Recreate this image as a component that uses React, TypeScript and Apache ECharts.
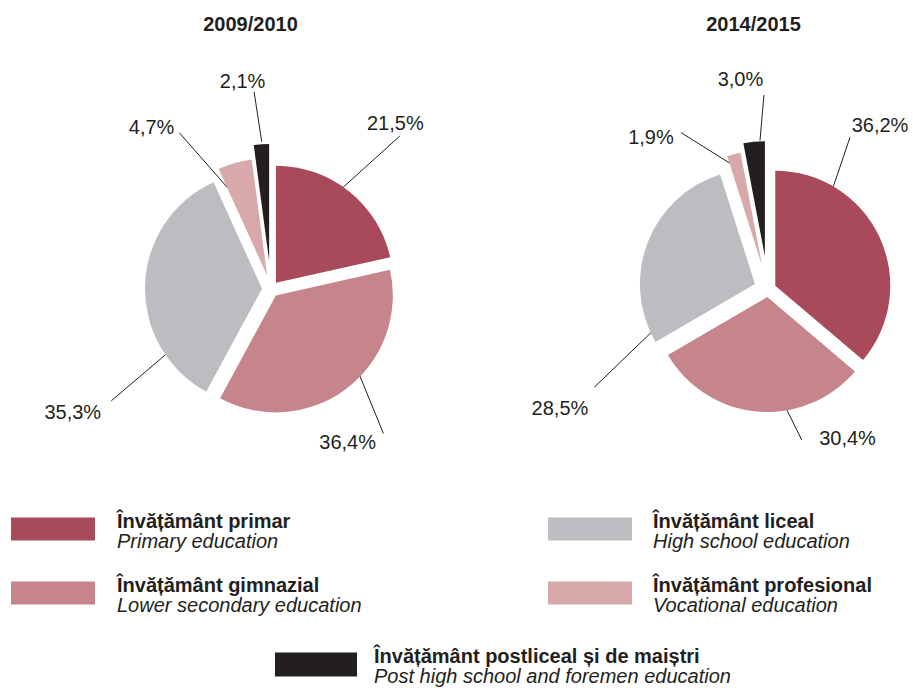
import React, { useEffect, useRef } from 'react';
import * as echarts from 'echarts';

// ---- Data ----
const categoriesRo = [
  'Învățământ primar',
  'Învățământ gimnazial',
  'Învățământ liceal',
  'Învățământ profesional',
  'Învățământ postliceal și de maiștri',
];
const categoriesEn = [
  'Primary education',
  'Lower secondary education',
  'High school education',
  'Vocational education',
  'Post high school and foremen education',
];
const years = ['2009/2010', '2014/2015'];
const values2009 = [21.5, 36.4, 35.3, 4.7, 2.1];
const values2014 = [36.2, 30.4, 28.5, 1.9, 3.0];

// ---- Styles / layout ----
const colors = ['#a84a59', '#c6858a', '#bcbdc1', '#d8a9aa', '#231f20'];
const textColor = '#231f20';
const fontFamily = '"Liberation Sans", Arial, Helvetica, sans-serif';

// per pie: centre, radius, explode distance per slice,
// label anchors per slice: [innerAngle, innerDist, outerAngle, outerDist, textDx, textDy]
const pies = [
  {
    title: years[0],
    titleX: 250.5,
    values: values2009,
    center: [271, 289],
    radius: 117,
    explode: [8, 8, 9, 14, 28],
    anchors: [
      [32.5, 102, 40.1, 200, -4.5, -13],
      [120, 80.5, 142.1, 183, -35.8, 8.7],
      [241, 92.7, 235, 195, -38.5, 11],
      [337, 109, 329.6, 181, -27.8, -5.7],
      [356.4, 147.6, 355.1, 198, -11.5, -11],
    ],
  },
  {
    title: years[1],
    titleX: 753.5,
    values: values2014,
    center: [768, 289],
    radius: 115,
    explode: [8, 8, 14, 24, 33],
    anchors: [
      [36.6, 94.4, 28.4, 172.4, 30, -12.3],
      [179.8, 83.3, 167.4, 154.7, 45.8, -2],
      [258.6, 92.5, 240.5, 199.6, -34.3, 20.7],
      [344.1, 129, 330.9, 179, -30, 4.3],
      [356.9, 148.5, 358.8, 194, -23.5, -16],
    ],
  },
];

const fmtPct = (v: number) => v.toFixed(1).replace('.', ',') + '%';

function buildPieSeries(p: any) {
  const total = p.values.reduce((a: number, b: number) => a + b, 0);
  let cum = 0;
  return p.values.map((v: number, i: number) => {
    const mid = ((cum + v / 2) / total) * 2 * Math.PI;
    cum += v;
    const ox = Math.sin(mid) * p.explode[i];
    const oy = -Math.cos(mid) * p.explode[i];
    const pt = (ang: number, dist: number) => [
      p.center[0] + Math.sin((ang * Math.PI) / 180) * dist,
      p.center[1] - Math.cos((ang * Math.PI) / 180) * dist,
    ];
    return {
      type: 'pie',
      name: p.title + '-' + i,
      center: [p.center[0] + ox, p.center[1] + oy],
      radius: p.radius,
      startAngle: 90,
      clockwise: true,
      avoidLabelOverlap: false,
      silent: true,
      selectedMode: false,
      emphasis: { disabled: true },
      z: 2,
      data: p.values.map((vv: number, j: number) => ({
        name: categoriesRo[j],
        value: vv,
        itemStyle: {
          color: j === i ? colors[j] : 'rgba(0,0,0,0)',
          borderWidth: 0,
        },
        label: { show: j === i },
        labelLine: { show: j === i },
      })),
      label: {
        position: 'outside',
        formatter: (prm: any) => fmtPct(prm.value),
        color: textColor,
        fontSize: 20,
        fontFamily,
      },
      labelLine: {
        show: true,
        length: 10,
        length2: 10,
        smooth: false,
        lineStyle: { color: textColor, width: 1 },
      },
      labelLayout: (prm: any) => {
        if (prm.dataIndex !== i) return {};
        const [a1, d1, a2, d2, tdx, tdy] = p.anchors[i];
        const inner = pt(a1, d1);
        const outer = pt(a2, d2);
        return {
          x: outer[0] + tdx,
          y: outer[1] + tdy,
          align: 'center',
          verticalAlign: 'middle',
          labelLinePoints: [inner, outer, outer],
        };
      },
    };
  });
}

function legendRich(padLeft: number) {
  return {
    b: {
      fontWeight: 'bold',
      fontSize: 20,
      lineHeight: 23,
      color: textColor,
      fontFamily,
      padding: [6, 0, 0, padLeft],
    },
    i: {
      fontStyle: 'italic',
      fontSize: 20,
      lineHeight: 23,
      color: textColor,
      fontFamily,
      padding: [0, 0, 0, padLeft],
    },
  };
}

function legendFor(
  indices: number[],
  left: number,
  top: number,
  itemWidth: number,
  itemHeight: number,
  padLeft: number
) {
  return {
    orient: 'vertical',
    left,
    top,
    padding: 0,
    itemGap: 18,
    itemWidth,
    itemHeight,
    icon: 'rect',
    selectedMode: false,
    data: indices.map((k) => ({
      name: categoriesRo[k],
      itemStyle: { color: colors[k], borderWidth: 0 },
    })),
    formatter: (name: string) => {
      const k = categoriesRo.indexOf(name);
      return '{b|' + name + '}\n{i|' + categoriesEn[k] + '}';
    },
    textStyle: { rich: legendRich(padLeft) },
  };
}

export default function App() {
  const ref = useRef<HTMLDivElement>(null);
  useEffect(() => {
    if (!ref.current) return;
    const chart = echarts.init(ref.current, undefined, { renderer: 'svg' });
    const series = pies.flatMap((p) => buildPieSeries(p));
    chart.setOption({
      animation: false,
      backgroundColor: '#ffffff',
      graphic: pies.map((p) => ({
        type: 'text',
        x: p.titleX,
        y: 24,
        style: {
          text: p.title,
          fill: textColor,
          font: 'bold 20px ' + fontFamily,
          textAlign: 'center',
          textVerticalAlign: 'middle',
        },
      })),
      legend: [
        legendFor([0, 1], 11, 504.5, 84, 23, 17),
        legendFor([2, 3], 548, 504.5, 84, 23, 16),
        legendFor([4], 275, 640, 82, 24, 12),
      ],
      series,
    });
    return () => chart.dispose();
  }, []);
  return (
    <div
      ref={ref}
      style={{ position: 'fixed', left: 0, top: 0, width: 913, height: 688, background: '#fff' }}
    />
  );
}
